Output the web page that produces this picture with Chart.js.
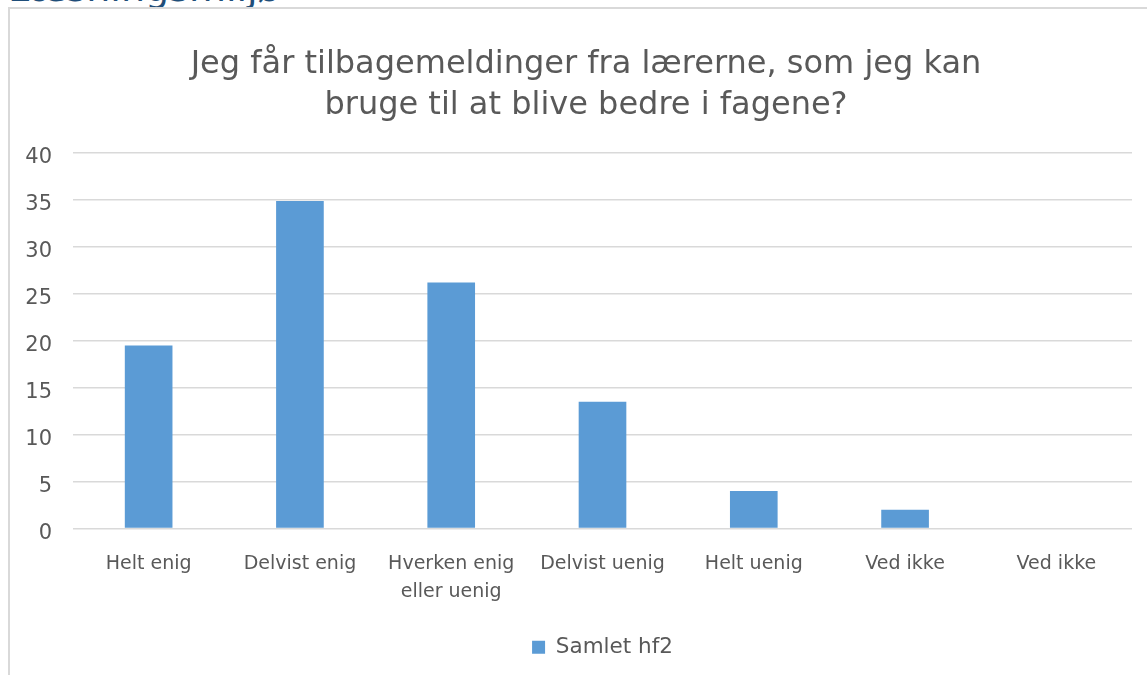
<!DOCTYPE html>
<html>
<head>
<meta charset="utf-8">
<script src="https://cdn.jsdelivr.net/npm/chart.js@4.4.1/dist/chart.umd.min.js"></script>
<style>
  html, body { margin: 0; padding: 0; background: #fff; width: 1147px; height: 675px; overflow: hidden; }
  #heading {
    position: absolute; left: 8px; top: -33px;
    font: 38px "DejaVu Sans", sans-serif; line-height: 42px; color: #1F4E79;
    white-space: nowrap; z-index: 0;
  }
  #box {
    position: absolute; left: 8px; top: 7px; width: 1200px; height: 700px;
    background: #fff; border-top: 2px solid #d9d9d9; border-left: 2px solid #d9d9d9;
    z-index: 1;
  }
  #wrap { position: absolute; left: 8px; top: 0; width: 1139px; height: 675px; z-index: 2; }
</style>
</head>
<body>
<div id="heading">Læsningsmiljø</div>
<div id="box"></div>
<div id="wrap"><canvas id="chart"></canvas></div>
<script>
// data
const categories = [
  "Helt enig",
  "Delvist enig",
  ["Hverken enig", "eller uenig"],
  "Delvist uenig",
  "Helt uenig",
  "Ved ikke",
  "Ved ikke"
];
const samletHf2 = [19.5, 34.9, 26.2, 13.5, 4.0, 2.0, 0];
const yTicks = { min: 0, max: 40, step: 5 };

const titleLines = [
  "Jeg får tilbagemeldinger fra lærerne, som jeg kan",
  "bruge til at blive bedre i fagene?"
];
const seriesName = "Samlet hf2";

const TXT = "#595959";
const FONT = "'DejaVu Sans', sans-serif";

new Chart(document.getElementById("chart"), {
  type: "bar",
  data: {
    labels: categories,
    datasets: [{
      label: seriesName,
      data: samletHf2,
      backgroundColor: "#5B9BD5",
      borderWidth: 0,
      categoryPercentage: 1,
      barPercentage: 0.315
    }]
  },
  options: {
    responsive: true,
    maintainAspectRatio: false,
    animation: false,
    // left padding keeps the title centred on the whole frame, like the original
    layout: { padding: { left: 32, right: 15, top: 0, bottom: 7 } },
    plugins: {
      title: {
        display: true,
        text: titleLines,
        color: TXT,
        font: { family: FONT, size: 32, weight: "normal", lineHeight: 41 / 32 },
        padding: { top: 44, bottom: 27 }
      },
      legend: {
        position: "bottom",
        fullSize: false,
        labels: {
          color: TXT,
          font: { family: FONT, size: 21.5 },
          boxWidth: 13,
          boxHeight: 13,
          padding: 10
        }
      },
      tooltip: { enabled: false }
    },
    scales: {
      x: {
        grid: { display: false, drawTicks: false },
        border: { display: false },
        ticks: {
          color: TXT,
          font: { family: FONT, size: 19, lineHeight: 28 / 19 },
          padding: 22,
          maxRotation: 0,
          autoSkip: false
        },
        afterFit: (s) => { s.height = 98; }
      },
      y: {
        min: yTicks.min,
        max: yTicks.max,
        grid: { color: "#d9d9d9", lineWidth: 1.5, drawTicks: false },
        border: { display: false },
        // mirrored + far alignment so labels are not clipped by the narrow axis box
        ticks: {
          stepSize: yTicks.step,
          color: TXT,
          font: { family: FONT, size: 21 },
          mirror: true,
          crossAlign: "far",
          padding: -47.7,
          labelOffset: 5
        },
        afterFit: (s) => { s.width = 33; }
      }
    }
  }
});
</script>
</body>
</html>
